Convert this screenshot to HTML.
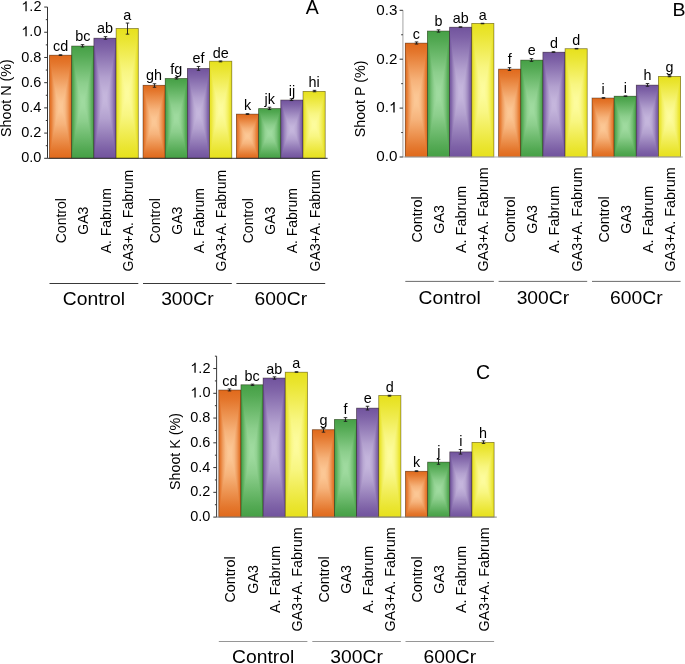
<!DOCTYPE html>
<html><head><meta charset="utf-8"><style>
html,body{margin:0;padding:0;background:#fff;}
#c{position:relative;width:685px;height:664px;overflow:hidden;background:#fff;font-family:"Liberation Sans", sans-serif;}
svg{position:absolute;left:0;top:0;}
svg text{font-family:"Liberation Sans", sans-serif;fill:#000;}
</style></head><body><div id="c">
<svg width="685" height="664" viewBox="0 0 685 664">
<defs><linearGradient id="ho" x1="0" y1="0" x2="1" y2="0"><stop offset="0.000" stop-color="#e0691b"/><stop offset="0.080" stop-color="#e67c34"/><stop offset="0.180" stop-color="#ef9d5f"/><stop offset="0.300" stop-color="#f8ba84"/><stop offset="0.420" stop-color="#fbc694"/><stop offset="0.500" stop-color="#fcc896"/><stop offset="0.580" stop-color="#fbc694"/><stop offset="0.700" stop-color="#f8ba84"/><stop offset="0.820" stop-color="#ef9d5f"/><stop offset="0.920" stop-color="#e67c34"/><stop offset="1.000" stop-color="#e0691b"/></linearGradient><linearGradient id="vo" x1="0" y1="0" x2="0" y2="1"><stop offset="0.000" stop-color="#e0691b"/><stop offset="0.080" stop-color="#e4772d"/><stop offset="0.200" stop-color="#ed9452"/><stop offset="0.330" stop-color="#f6b37b"/><stop offset="0.450" stop-color="#fbc592"/><stop offset="0.500" stop-color="#fcc896"/><stop offset="0.550" stop-color="#fbc592"/><stop offset="0.670" stop-color="#f6b37b"/><stop offset="0.800" stop-color="#ed9452"/><stop offset="0.920" stop-color="#e4772d"/><stop offset="1.000" stop-color="#e0691b"/></linearGradient><linearGradient id="hg" x1="0" y1="0" x2="1" y2="0"><stop offset="0.000" stop-color="#45a045"/><stop offset="0.080" stop-color="#57ac57"/><stop offset="0.180" stop-color="#77c077"/><stop offset="0.300" stop-color="#92d292"/><stop offset="0.420" stop-color="#9eda9e"/><stop offset="0.500" stop-color="#a0dba0"/><stop offset="0.580" stop-color="#9eda9e"/><stop offset="0.700" stop-color="#92d292"/><stop offset="0.820" stop-color="#77c077"/><stop offset="0.920" stop-color="#57ac57"/><stop offset="1.000" stop-color="#45a045"/></linearGradient><linearGradient id="vg" x1="0" y1="0" x2="0" y2="1"><stop offset="0.000" stop-color="#45a045"/><stop offset="0.080" stop-color="#53a953"/><stop offset="0.200" stop-color="#6ebb6e"/><stop offset="0.330" stop-color="#8cce8c"/><stop offset="0.450" stop-color="#9dd99d"/><stop offset="0.500" stop-color="#a0dba0"/><stop offset="0.550" stop-color="#9dd99d"/><stop offset="0.670" stop-color="#8cce8c"/><stop offset="0.800" stop-color="#6ebb6e"/><stop offset="0.920" stop-color="#53a953"/><stop offset="1.000" stop-color="#45a045"/></linearGradient><linearGradient id="hp" x1="0" y1="0" x2="1" y2="0"><stop offset="0.000" stop-color="#71539d"/><stop offset="0.080" stop-color="#8267aa"/><stop offset="0.180" stop-color="#a08ac0"/><stop offset="0.300" stop-color="#b9a8d3"/><stop offset="0.420" stop-color="#c4b5dc"/><stop offset="0.500" stop-color="#c6b7dd"/><stop offset="0.580" stop-color="#c4b5dc"/><stop offset="0.700" stop-color="#b9a8d3"/><stop offset="0.820" stop-color="#a08ac0"/><stop offset="0.920" stop-color="#8267aa"/><stop offset="1.000" stop-color="#71539d"/></linearGradient><linearGradient id="vp" x1="0" y1="0" x2="0" y2="1"><stop offset="0.000" stop-color="#71539d"/><stop offset="0.080" stop-color="#7e62a7"/><stop offset="0.200" stop-color="#9780ba"/><stop offset="0.330" stop-color="#b3a1cf"/><stop offset="0.450" stop-color="#c3b4db"/><stop offset="0.500" stop-color="#c6b7dd"/><stop offset="0.550" stop-color="#c3b4db"/><stop offset="0.670" stop-color="#b3a1cf"/><stop offset="0.800" stop-color="#9780ba"/><stop offset="0.920" stop-color="#7e62a7"/><stop offset="1.000" stop-color="#71539d"/></linearGradient><linearGradient id="hy" x1="0" y1="0" x2="1" y2="0"><stop offset="0.000" stop-color="#e7e11c"/><stop offset="0.080" stop-color="#ebe636"/><stop offset="0.180" stop-color="#f3f064"/><stop offset="0.300" stop-color="#faf88a"/><stop offset="0.420" stop-color="#fdfb9b"/><stop offset="0.500" stop-color="#fdfc9e"/><stop offset="0.580" stop-color="#fdfb9b"/><stop offset="0.700" stop-color="#faf88a"/><stop offset="0.820" stop-color="#f3f064"/><stop offset="0.920" stop-color="#ebe636"/><stop offset="1.000" stop-color="#e7e11c"/></linearGradient><linearGradient id="vy" x1="0" y1="0" x2="0" y2="1"><stop offset="0.000" stop-color="#e7e11c"/><stop offset="0.080" stop-color="#eae530"/><stop offset="0.200" stop-color="#f1ed56"/><stop offset="0.330" stop-color="#f8f681"/><stop offset="0.450" stop-color="#fcfb9a"/><stop offset="0.500" stop-color="#fdfc9e"/><stop offset="0.550" stop-color="#fcfb9a"/><stop offset="0.670" stop-color="#f8f681"/><stop offset="0.800" stop-color="#f1ed56"/><stop offset="0.920" stop-color="#eae530"/><stop offset="1.000" stop-color="#e7e11c"/></linearGradient></defs><g style="isolation:isolate"><rect x="49.50" y="55.20" width="22.20" height="103.10" fill="url(#ho)"/><rect x="49.50" y="55.20" width="22.20" height="103.10" fill="url(#vo)" style="mix-blend-mode:darken"/><rect x="49.50" y="55.20" width="22.20" height="103.10" fill="none" stroke="rgba(40,30,20,0.5)" stroke-width="0.8"/><rect x="71.70" y="46.00" width="22.20" height="112.30" fill="url(#hg)"/><rect x="71.70" y="46.00" width="22.20" height="112.30" fill="url(#vg)" style="mix-blend-mode:darken"/><rect x="71.70" y="46.00" width="22.20" height="112.30" fill="none" stroke="rgba(40,30,20,0.5)" stroke-width="0.8"/><rect x="93.90" y="38.20" width="22.20" height="120.10" fill="url(#hp)"/><rect x="93.90" y="38.20" width="22.20" height="120.10" fill="url(#vp)" style="mix-blend-mode:darken"/><rect x="93.90" y="38.20" width="22.20" height="120.10" fill="none" stroke="rgba(40,30,20,0.5)" stroke-width="0.8"/><rect x="116.10" y="28.50" width="22.20" height="129.80" fill="url(#hy)"/><rect x="116.10" y="28.50" width="22.20" height="129.80" fill="url(#vy)" style="mix-blend-mode:darken"/><rect x="116.10" y="28.50" width="22.20" height="129.80" fill="none" stroke="rgba(40,30,20,0.5)" stroke-width="0.8"/><rect x="143.00" y="85.30" width="22.20" height="73.00" fill="url(#ho)"/><rect x="143.00" y="85.30" width="22.20" height="73.00" fill="url(#vo)" style="mix-blend-mode:darken"/><rect x="143.00" y="85.30" width="22.20" height="73.00" fill="none" stroke="rgba(40,30,20,0.5)" stroke-width="0.8"/><rect x="165.20" y="78.50" width="22.20" height="79.80" fill="url(#hg)"/><rect x="165.20" y="78.50" width="22.20" height="79.80" fill="url(#vg)" style="mix-blend-mode:darken"/><rect x="165.20" y="78.50" width="22.20" height="79.80" fill="none" stroke="rgba(40,30,20,0.5)" stroke-width="0.8"/><rect x="187.40" y="68.50" width="22.20" height="89.80" fill="url(#hp)"/><rect x="187.40" y="68.50" width="22.20" height="89.80" fill="url(#vp)" style="mix-blend-mode:darken"/><rect x="187.40" y="68.50" width="22.20" height="89.80" fill="none" stroke="rgba(40,30,20,0.5)" stroke-width="0.8"/><rect x="209.60" y="61.20" width="22.20" height="97.10" fill="url(#hy)"/><rect x="209.60" y="61.20" width="22.20" height="97.10" fill="url(#vy)" style="mix-blend-mode:darken"/><rect x="209.60" y="61.20" width="22.20" height="97.10" fill="none" stroke="rgba(40,30,20,0.5)" stroke-width="0.8"/><rect x="236.40" y="114.10" width="22.20" height="44.20" fill="url(#ho)"/><rect x="236.40" y="114.10" width="22.20" height="44.20" fill="url(#vo)" style="mix-blend-mode:darken"/><rect x="236.40" y="114.10" width="22.20" height="44.20" fill="none" stroke="rgba(40,30,20,0.5)" stroke-width="0.8"/><rect x="258.60" y="108.60" width="22.20" height="49.70" fill="url(#hg)"/><rect x="258.60" y="108.60" width="22.20" height="49.70" fill="url(#vg)" style="mix-blend-mode:darken"/><rect x="258.60" y="108.60" width="22.20" height="49.70" fill="none" stroke="rgba(40,30,20,0.5)" stroke-width="0.8"/><rect x="280.80" y="100.00" width="22.20" height="58.30" fill="url(#hp)"/><rect x="280.80" y="100.00" width="22.20" height="58.30" fill="url(#vp)" style="mix-blend-mode:darken"/><rect x="280.80" y="100.00" width="22.20" height="58.30" fill="none" stroke="rgba(40,30,20,0.5)" stroke-width="0.8"/><rect x="303.00" y="91.40" width="22.20" height="66.90" fill="url(#hy)"/><rect x="303.00" y="91.40" width="22.20" height="66.90" fill="url(#vy)" style="mix-blend-mode:darken"/><rect x="303.00" y="91.40" width="22.20" height="66.90" fill="none" stroke="rgba(40,30,20,0.5)" stroke-width="0.8"/><rect x="405.30" y="43.10" width="22.15" height="113.90" fill="url(#ho)"/><rect x="405.30" y="43.10" width="22.15" height="113.90" fill="url(#vo)" style="mix-blend-mode:darken"/><rect x="405.30" y="43.10" width="22.15" height="113.90" fill="none" stroke="rgba(40,30,20,0.5)" stroke-width="0.8"/><rect x="427.45" y="31.00" width="22.15" height="126.00" fill="url(#hg)"/><rect x="427.45" y="31.00" width="22.15" height="126.00" fill="url(#vg)" style="mix-blend-mode:darken"/><rect x="427.45" y="31.00" width="22.15" height="126.00" fill="none" stroke="rgba(40,30,20,0.5)" stroke-width="0.8"/><rect x="449.60" y="27.20" width="22.15" height="129.80" fill="url(#hp)"/><rect x="449.60" y="27.20" width="22.15" height="129.80" fill="url(#vp)" style="mix-blend-mode:darken"/><rect x="449.60" y="27.20" width="22.15" height="129.80" fill="none" stroke="rgba(40,30,20,0.5)" stroke-width="0.8"/><rect x="471.75" y="23.40" width="22.15" height="133.60" fill="url(#hy)"/><rect x="471.75" y="23.40" width="22.15" height="133.60" fill="url(#vy)" style="mix-blend-mode:darken"/><rect x="471.75" y="23.40" width="22.15" height="133.60" fill="none" stroke="rgba(40,30,20,0.5)" stroke-width="0.8"/><rect x="498.60" y="69.10" width="22.15" height="87.90" fill="url(#ho)"/><rect x="498.60" y="69.10" width="22.15" height="87.90" fill="url(#vo)" style="mix-blend-mode:darken"/><rect x="498.60" y="69.10" width="22.15" height="87.90" fill="none" stroke="rgba(40,30,20,0.5)" stroke-width="0.8"/><rect x="520.75" y="60.10" width="22.15" height="96.90" fill="url(#hg)"/><rect x="520.75" y="60.10" width="22.15" height="96.90" fill="url(#vg)" style="mix-blend-mode:darken"/><rect x="520.75" y="60.10" width="22.15" height="96.90" fill="none" stroke="rgba(40,30,20,0.5)" stroke-width="0.8"/><rect x="542.90" y="52.20" width="22.15" height="104.80" fill="url(#hp)"/><rect x="542.90" y="52.20" width="22.15" height="104.80" fill="url(#vp)" style="mix-blend-mode:darken"/><rect x="542.90" y="52.20" width="22.15" height="104.80" fill="none" stroke="rgba(40,30,20,0.5)" stroke-width="0.8"/><rect x="565.05" y="48.70" width="22.15" height="108.30" fill="url(#hy)"/><rect x="565.05" y="48.70" width="22.15" height="108.30" fill="url(#vy)" style="mix-blend-mode:darken"/><rect x="565.05" y="48.70" width="22.15" height="108.30" fill="none" stroke="rgba(40,30,20,0.5)" stroke-width="0.8"/><rect x="592.00" y="98.00" width="22.15" height="59.00" fill="url(#ho)"/><rect x="592.00" y="98.00" width="22.15" height="59.00" fill="url(#vo)" style="mix-blend-mode:darken"/><rect x="592.00" y="98.00" width="22.15" height="59.00" fill="none" stroke="rgba(40,30,20,0.5)" stroke-width="0.8"/><rect x="614.15" y="96.20" width="22.15" height="60.80" fill="url(#hg)"/><rect x="614.15" y="96.20" width="22.15" height="60.80" fill="url(#vg)" style="mix-blend-mode:darken"/><rect x="614.15" y="96.20" width="22.15" height="60.80" fill="none" stroke="rgba(40,30,20,0.5)" stroke-width="0.8"/><rect x="636.30" y="85.10" width="22.15" height="71.90" fill="url(#hp)"/><rect x="636.30" y="85.10" width="22.15" height="71.90" fill="url(#vp)" style="mix-blend-mode:darken"/><rect x="636.30" y="85.10" width="22.15" height="71.90" fill="none" stroke="rgba(40,30,20,0.5)" stroke-width="0.8"/><rect x="658.45" y="76.40" width="22.15" height="80.60" fill="url(#hy)"/><rect x="658.45" y="76.40" width="22.15" height="80.60" fill="url(#vy)" style="mix-blend-mode:darken"/><rect x="658.45" y="76.40" width="22.15" height="80.60" fill="none" stroke="rgba(40,30,20,0.5)" stroke-width="0.8"/><rect x="218.80" y="390.00" width="22.15" height="127.10" fill="url(#ho)"/><rect x="218.80" y="390.00" width="22.15" height="127.10" fill="url(#vo)" style="mix-blend-mode:darken"/><rect x="218.80" y="390.00" width="22.15" height="127.10" fill="none" stroke="rgba(40,30,20,0.5)" stroke-width="0.8"/><rect x="240.95" y="384.80" width="22.15" height="132.30" fill="url(#hg)"/><rect x="240.95" y="384.80" width="22.15" height="132.30" fill="url(#vg)" style="mix-blend-mode:darken"/><rect x="240.95" y="384.80" width="22.15" height="132.30" fill="none" stroke="rgba(40,30,20,0.5)" stroke-width="0.8"/><rect x="263.10" y="378.00" width="22.15" height="139.10" fill="url(#hp)"/><rect x="263.10" y="378.00" width="22.15" height="139.10" fill="url(#vp)" style="mix-blend-mode:darken"/><rect x="263.10" y="378.00" width="22.15" height="139.10" fill="none" stroke="rgba(40,30,20,0.5)" stroke-width="0.8"/><rect x="285.25" y="372.20" width="22.15" height="144.90" fill="url(#hy)"/><rect x="285.25" y="372.20" width="22.15" height="144.90" fill="url(#vy)" style="mix-blend-mode:darken"/><rect x="285.25" y="372.20" width="22.15" height="144.90" fill="none" stroke="rgba(40,30,20,0.5)" stroke-width="0.8"/><rect x="312.30" y="429.70" width="22.15" height="87.40" fill="url(#ho)"/><rect x="312.30" y="429.70" width="22.15" height="87.40" fill="url(#vo)" style="mix-blend-mode:darken"/><rect x="312.30" y="429.70" width="22.15" height="87.40" fill="none" stroke="rgba(40,30,20,0.5)" stroke-width="0.8"/><rect x="334.45" y="419.50" width="22.15" height="97.60" fill="url(#hg)"/><rect x="334.45" y="419.50" width="22.15" height="97.60" fill="url(#vg)" style="mix-blend-mode:darken"/><rect x="334.45" y="419.50" width="22.15" height="97.60" fill="none" stroke="rgba(40,30,20,0.5)" stroke-width="0.8"/><rect x="356.60" y="408.10" width="22.15" height="109.00" fill="url(#hp)"/><rect x="356.60" y="408.10" width="22.15" height="109.00" fill="url(#vp)" style="mix-blend-mode:darken"/><rect x="356.60" y="408.10" width="22.15" height="109.00" fill="none" stroke="rgba(40,30,20,0.5)" stroke-width="0.8"/><rect x="378.75" y="395.50" width="22.15" height="121.60" fill="url(#hy)"/><rect x="378.75" y="395.50" width="22.15" height="121.60" fill="url(#vy)" style="mix-blend-mode:darken"/><rect x="378.75" y="395.50" width="22.15" height="121.60" fill="none" stroke="rgba(40,30,20,0.5)" stroke-width="0.8"/><rect x="405.50" y="471.30" width="22.15" height="45.80" fill="url(#ho)"/><rect x="405.50" y="471.30" width="22.15" height="45.80" fill="url(#vo)" style="mix-blend-mode:darken"/><rect x="405.50" y="471.30" width="22.15" height="45.80" fill="none" stroke="rgba(40,30,20,0.5)" stroke-width="0.8"/><rect x="427.65" y="462.10" width="22.15" height="55.00" fill="url(#hg)"/><rect x="427.65" y="462.10" width="22.15" height="55.00" fill="url(#vg)" style="mix-blend-mode:darken"/><rect x="427.65" y="462.10" width="22.15" height="55.00" fill="none" stroke="rgba(40,30,20,0.5)" stroke-width="0.8"/><rect x="449.80" y="451.90" width="22.15" height="65.20" fill="url(#hp)"/><rect x="449.80" y="451.90" width="22.15" height="65.20" fill="url(#vp)" style="mix-blend-mode:darken"/><rect x="449.80" y="451.90" width="22.15" height="65.20" fill="none" stroke="rgba(40,30,20,0.5)" stroke-width="0.8"/><rect x="471.95" y="442.40" width="22.15" height="74.70" fill="url(#hy)"/><rect x="471.95" y="442.40" width="22.15" height="74.70" fill="url(#vy)" style="mix-blend-mode:darken"/><rect x="471.95" y="442.40" width="22.15" height="74.70" fill="none" stroke="rgba(40,30,20,0.5)" stroke-width="0.8"/></g>
<path d="M60.50 54.75V55.45M58.75 54.75H62.25M58.75 55.45H62.25" stroke="#1a1a1a" stroke-width="0.9" fill="none"/><text transform="translate(60.60,51.40) scale(1,1.0)" font-size="14.4" text-anchor="middle">cd</text><text transform="translate(66.10,220.70) rotate(-90)" font-size="14.0" text-anchor="middle">Control</text><path d="M82.50 44.65V46.95M80.75 44.65H84.25M80.75 46.95H84.25" stroke="#1a1a1a" stroke-width="0.9" fill="none"/><text transform="translate(82.80,41.30) scale(1,1.0)" font-size="14.4" text-anchor="middle">bc</text><text transform="translate(88.30,220.70) rotate(-90)" font-size="14.0" text-anchor="middle">GA3</text><path d="M105.50 36.65V39.25M103.75 36.65H107.25M103.75 39.25H107.25" stroke="#1a1a1a" stroke-width="0.9" fill="none"/><text transform="translate(105.00,33.30) scale(1,1.0)" font-size="14.4" text-anchor="middle">ab</text><text transform="translate(110.50,220.70) rotate(-90)" font-size="14.0" text-anchor="middle">A. Fabrum</text><path d="M127.50 23.05V34.15M125.75 23.05H129.25M125.75 34.15H129.25" stroke="#1a1a1a" stroke-width="0.9" fill="none"/><text transform="translate(127.20,19.70) scale(1,1.0)" font-size="14.4" text-anchor="middle">a</text><text transform="translate(132.70,220.70) rotate(-90)" font-size="14.0" text-anchor="middle">GA3+A. Fabrum</text><path d="M49.50 283.50H138.30" stroke="#222" stroke-width="0.9"/><text transform="translate(93.90,305.30) scale(1,0.95)" font-size="19.3" text-anchor="middle">Control</text><path d="M154.50 83.75V87.25M152.75 83.75H156.25M152.75 87.25H156.25" stroke="#1a1a1a" stroke-width="0.9" fill="none"/><text transform="translate(154.10,80.40) scale(1,1.0)" font-size="14.4" text-anchor="middle">gh</text><text transform="translate(159.60,220.70) rotate(-90)" font-size="14.0" text-anchor="middle">Control</text><path d="M176.50 77.45V79.05M174.75 77.45H178.25M174.75 79.05H178.25" stroke="#1a1a1a" stroke-width="0.9" fill="none"/><text transform="translate(176.30,74.10) scale(1,1.0)" font-size="14.4" text-anchor="middle">fg</text><text transform="translate(181.80,220.70) rotate(-90)" font-size="14.0" text-anchor="middle">GA3</text><path d="M198.50 66.45V70.25M196.75 66.45H200.25M196.75 70.25H200.25" stroke="#1a1a1a" stroke-width="0.9" fill="none"/><text transform="translate(198.50,63.10) scale(1,1.0)" font-size="14.4" text-anchor="middle">ef</text><text transform="translate(204.00,220.70) rotate(-90)" font-size="14.0" text-anchor="middle">A. Fabrum</text><path d="M220.50 60.95V61.85M218.75 60.95H222.25M218.75 61.85H222.25" stroke="#1a1a1a" stroke-width="0.9" fill="none"/><text transform="translate(220.70,57.60) scale(1,1.0)" font-size="14.4" text-anchor="middle">de</text><text transform="translate(226.20,220.70) rotate(-90)" font-size="14.0" text-anchor="middle">GA3+A. Fabrum</text><path d="M143.00 283.50H231.80" stroke="#222" stroke-width="0.9"/><text transform="translate(187.40,305.30) scale(1,0.95)" font-size="19.3" text-anchor="middle">300Cr</text><path d="M247.50 113.65V114.45M245.75 113.65H249.25M245.75 114.45H249.25" stroke="#1a1a1a" stroke-width="0.9" fill="none"/><text transform="translate(247.50,110.30) scale(1,1.0)" font-size="14.4" text-anchor="middle">k</text><text transform="translate(253.00,220.70) rotate(-90)" font-size="14.0" text-anchor="middle">Control</text><path d="M269.50 107.25V109.55M267.75 107.25H271.25M267.75 109.55H271.25" stroke="#1a1a1a" stroke-width="0.9" fill="none"/><text transform="translate(269.70,103.90) scale(1,1.0)" font-size="14.4" text-anchor="middle">jk</text><text transform="translate(275.20,220.70) rotate(-90)" font-size="14.0" text-anchor="middle">GA3</text><path d="M291.50 98.85V100.55M289.75 98.85H293.25M289.75 100.55H293.25" stroke="#1a1a1a" stroke-width="0.9" fill="none"/><text transform="translate(291.90,95.50) scale(1,1.0)" font-size="14.4" text-anchor="middle">ij</text><text transform="translate(297.40,220.70) rotate(-90)" font-size="14.0" text-anchor="middle">A. Fabrum</text><path d="M314.50 90.35V91.75M312.75 90.35H316.25M312.75 91.75H316.25" stroke="#1a1a1a" stroke-width="0.9" fill="none"/><text transform="translate(314.10,87.00) scale(1,1.0)" font-size="14.4" text-anchor="middle">hi</text><text transform="translate(319.60,220.70) rotate(-90)" font-size="14.0" text-anchor="middle">GA3+A. Fabrum</text><path d="M236.40 283.50H325.20" stroke="#222" stroke-width="0.9"/><text transform="translate(280.80,305.30) scale(1,0.95)" font-size="19.3" text-anchor="middle">600Cr</text><path d="M47.50 7.05V158.30" stroke="#333" stroke-width="1.0" fill="none"/><path d="M47.50 158.30H327.60" stroke="#333" stroke-width="1" fill="none"/><path d="M44.20 158.30H47.50" stroke="#333" stroke-width="1"/><text x="41.45" y="162.39" font-size="14.5" text-anchor="end">0.0</text><path d="M44.20 133.09H47.50" stroke="#333" stroke-width="1"/><text x="41.45" y="137.18" font-size="14.5" text-anchor="end">0.2</text><path d="M44.20 107.88H47.50" stroke="#333" stroke-width="1"/><text x="41.45" y="111.97" font-size="14.5" text-anchor="end">0.4</text><path d="M44.20 82.68H47.50" stroke="#333" stroke-width="1"/><text x="41.45" y="86.76" font-size="14.5" text-anchor="end">0.6</text><path d="M44.20 57.47H47.50" stroke="#333" stroke-width="1"/><text x="41.45" y="61.56" font-size="14.5" text-anchor="end">0.8</text><path d="M44.20 32.26H47.50" stroke="#333" stroke-width="1"/><path transform="translate(21.293,36.348) scale(0.007080,-0.007080)" d="M763 0L583 0L583 1100C540 1060 480 1015 410 975C340 935 275 905 223 886L223 1053C300 1085 380 1130 450 1185C520 1240 570 1300 600 1409L763 1409Z" fill="#000"/><text x="29.357" y="36.35" font-size="14.5">.</text><text x="33.386" y="36.35" font-size="14.5">0</text><path d="M44.20 7.05H47.50" stroke="#333" stroke-width="1"/><path transform="translate(21.293,11.140) scale(0.007080,-0.007080)" d="M763 0L583 0L583 1100C540 1060 480 1015 410 975C340 935 275 905 223 886L223 1053C300 1085 380 1130 450 1185C520 1240 570 1300 600 1409L763 1409Z" fill="#000"/><text x="29.357" y="11.14" font-size="14.5">.</text><text x="33.386" y="11.14" font-size="14.5">2</text><path d="M45.80 145.70H47.50" stroke="#333" stroke-width="1"/><path d="M45.80 120.49H47.50" stroke="#333" stroke-width="1"/><path d="M45.80 95.28H47.50" stroke="#333" stroke-width="1"/><path d="M45.80 70.07H47.50" stroke="#333" stroke-width="1"/><path d="M45.80 44.86H47.50" stroke="#333" stroke-width="1"/><path d="M45.80 19.66H47.50" stroke="#333" stroke-width="1"/><text transform="translate(10.80,98.10) rotate(-90)" font-size="14.3" text-anchor="middle">Shoot N (%)</text><text transform="translate(305.76,14.00) scale(1,1.0)" font-size="19.5">A</text><path d="M416.50 41.95V44.05M414.75 41.95H418.25M414.75 44.05H418.25" stroke="#1a1a1a" stroke-width="0.9" fill="none"/><text transform="translate(416.38,38.50) scale(1,1.0)" font-size="14.3" text-anchor="middle">c</text><text transform="translate(421.88,219.40) rotate(-90)" font-size="14.4" text-anchor="middle">Control</text><path d="M438.50 29.85V32.15M436.75 29.85H440.25M436.75 32.15H440.25" stroke="#1a1a1a" stroke-width="0.9" fill="none"/><text transform="translate(438.52,26.40) scale(1,1.0)" font-size="14.3" text-anchor="middle">b</text><text transform="translate(444.02,219.40) rotate(-90)" font-size="14.4" text-anchor="middle">GA3</text><path d="M460.50 26.85V27.25M458.75 26.85H462.25M458.75 27.25H462.25" stroke="#1a1a1a" stroke-width="0.9" fill="none"/><text transform="translate(460.68,23.40) scale(1,1.0)" font-size="14.3" text-anchor="middle">ab</text><text transform="translate(466.18,219.40) rotate(-90)" font-size="14.4" text-anchor="middle">A. Fabrum</text><path d="M482.50 23.25V23.75M480.75 23.25H484.25M480.75 23.75H484.25" stroke="#1a1a1a" stroke-width="0.9" fill="none"/><text transform="translate(482.82,19.80) scale(1,1.0)" font-size="14.3" text-anchor="middle">a</text><text transform="translate(488.32,219.40) rotate(-90)" font-size="14.4" text-anchor="middle">GA3+A. Fabrum</text><path d="M405.30 281.40H493.90" stroke="#5a5a5a" stroke-width="0.9"/><text transform="translate(449.60,303.60) scale(1,0.95)" font-size="19.3" text-anchor="middle">Control</text><path d="M509.50 67.65V70.45M507.75 67.65H511.25M507.75 70.45H511.25" stroke="#1a1a1a" stroke-width="0.9" fill="none"/><text transform="translate(509.68,64.20) scale(1,1.0)" font-size="14.3" text-anchor="middle">f</text><text transform="translate(515.17,219.40) rotate(-90)" font-size="14.4" text-anchor="middle">Control</text><path d="M531.50 58.65V61.35M529.75 58.65H533.25M529.75 61.35H533.25" stroke="#1a1a1a" stroke-width="0.9" fill="none"/><text transform="translate(531.83,55.20) scale(1,1.0)" font-size="14.3" text-anchor="middle">e</text><text transform="translate(537.33,219.40) rotate(-90)" font-size="14.4" text-anchor="middle">GA3</text><path d="M553.50 51.75V52.35M551.75 51.75H555.25M551.75 52.35H555.25" stroke="#1a1a1a" stroke-width="0.9" fill="none"/><text transform="translate(553.98,48.30) scale(1,1.0)" font-size="14.3" text-anchor="middle">d</text><text transform="translate(559.48,219.40) rotate(-90)" font-size="14.4" text-anchor="middle">A. Fabrum</text><path d="M576.50 48.45V48.95M574.75 48.45H578.25M574.75 48.95H578.25" stroke="#1a1a1a" stroke-width="0.9" fill="none"/><text transform="translate(576.12,45.00) scale(1,1.0)" font-size="14.3" text-anchor="middle">d</text><text transform="translate(581.62,219.40) rotate(-90)" font-size="14.4" text-anchor="middle">GA3+A. Fabrum</text><path d="M498.60 281.40H587.20" stroke="#5a5a5a" stroke-width="0.9"/><text transform="translate(542.90,303.60) scale(1,0.95)" font-size="19.3" text-anchor="middle">300Cr</text><path d="M603.50 97.65V98.25M601.75 97.65H605.25M601.75 98.25H605.25" stroke="#1a1a1a" stroke-width="0.9" fill="none"/><text transform="translate(603.08,94.20) scale(1,1.0)" font-size="14.3" text-anchor="middle">i</text><text transform="translate(608.58,219.40) rotate(-90)" font-size="14.4" text-anchor="middle">Control</text><path d="M625.50 95.95V96.35M623.75 95.95H627.25M623.75 96.35H627.25" stroke="#1a1a1a" stroke-width="0.9" fill="none"/><text transform="translate(625.23,92.50) scale(1,1.0)" font-size="14.3" text-anchor="middle">i</text><text transform="translate(630.73,219.40) rotate(-90)" font-size="14.4" text-anchor="middle">GA3</text><path d="M647.50 83.55V86.25M645.75 83.55H649.25M645.75 86.25H649.25" stroke="#1a1a1a" stroke-width="0.9" fill="none"/><text transform="translate(647.38,80.10) scale(1,1.0)" font-size="14.3" text-anchor="middle">h</text><text transform="translate(652.88,219.40) rotate(-90)" font-size="14.4" text-anchor="middle">A. Fabrum</text><path d="M669.50 75.75V76.75M667.75 75.75H671.25M667.75 76.75H671.25" stroke="#1a1a1a" stroke-width="0.9" fill="none"/><text transform="translate(669.53,72.30) scale(1,1.0)" font-size="14.3" text-anchor="middle">g</text><text transform="translate(675.03,219.40) rotate(-90)" font-size="14.4" text-anchor="middle">GA3+A. Fabrum</text><path d="M592.00 281.40H680.60" stroke="#5a5a5a" stroke-width="0.9"/><text transform="translate(636.30,303.60) scale(1,0.95)" font-size="19.3" text-anchor="middle">600Cr</text><path d="M402.90 10.30V157.00" stroke="#b8b8b8" stroke-width="1.3" fill="none"/><path d="M402.90 157.00H682.80" stroke="#b0b0b0" stroke-width="1" fill="none"/><path d="M399.60 157.00H402.90" stroke="#333" stroke-width="1"/><text x="397.45" y="161.33" font-size="15.2" text-anchor="end">0.0</text><path d="M399.60 108.10H402.90" stroke="#333" stroke-width="1"/><text x="376.320" y="112.43" font-size="15.2">0</text><text x="384.773" y="112.43" font-size="15.2">.</text><path transform="translate(388.996,112.429) scale(0.007422,-0.007422)" d="M763 0L583 0L583 1100C540 1060 480 1015 410 975C340 935 275 905 223 886L223 1053C300 1085 380 1130 450 1185C520 1240 570 1300 600 1409L763 1409Z" fill="#000"/><path d="M399.60 59.20H402.90" stroke="#333" stroke-width="1"/><text x="397.45" y="63.53" font-size="15.2" text-anchor="end">0.2</text><path d="M399.60 10.30H402.90" stroke="#333" stroke-width="1"/><text x="397.45" y="14.63" font-size="15.2" text-anchor="end">0.3</text><path d="M401.20 132.55H402.90" stroke="#333" stroke-width="1"/><path d="M401.20 83.65H402.90" stroke="#333" stroke-width="1"/><path d="M401.20 34.75H402.90" stroke="#333" stroke-width="1"/><text transform="translate(365.10,98.95) rotate(-90)" font-size="14.3" text-anchor="middle">Shoot P (%)</text><text transform="translate(672.50,15.90) scale(1,0.94)" font-size="19.5">B</text><path d="M229.50 388.95V390.95M227.75 388.95H231.25M227.75 390.95H231.25" stroke="#1a1a1a" stroke-width="0.9" fill="none"/><text transform="translate(229.88,385.60) scale(1,1.0)" font-size="14.4" text-anchor="middle">cd</text><text transform="translate(235.38,579.40) rotate(-90)" font-size="14.4" text-anchor="middle">Control</text><path d="M252.50 384.15V385.45M250.75 384.15H254.25M250.75 385.45H254.25" stroke="#1a1a1a" stroke-width="0.9" fill="none"/><text transform="translate(252.03,380.80) scale(1,1.0)" font-size="14.4" text-anchor="middle">bc</text><text transform="translate(257.52,579.40) rotate(-90)" font-size="14.4" text-anchor="middle">GA3</text><path d="M274.50 376.85V379.15M272.75 376.85H276.25M272.75 379.15H276.25" stroke="#1a1a1a" stroke-width="0.9" fill="none"/><text transform="translate(274.18,373.50) scale(1,1.0)" font-size="14.4" text-anchor="middle">ab</text><text transform="translate(279.68,579.40) rotate(-90)" font-size="14.4" text-anchor="middle">A. Fabrum</text><path d="M296.50 371.75V372.25M294.75 371.75H298.25M294.75 372.25H298.25" stroke="#1a1a1a" stroke-width="0.9" fill="none"/><text transform="translate(296.32,368.40) scale(1,1.0)" font-size="14.4" text-anchor="middle">a</text><text transform="translate(301.82,579.40) rotate(-90)" font-size="14.4" text-anchor="middle">GA3+A. Fabrum</text><path d="M218.80 641.50H307.40" stroke="#8a8a8a" stroke-width="0.9"/><text transform="translate(263.10,662.90) scale(1,0.95)" font-size="19.3" text-anchor="middle">Control</text><path d="M323.50 428.65V432.15M321.75 428.65H325.25M321.75 432.15H325.25" stroke="#1a1a1a" stroke-width="0.9" fill="none"/><text transform="translate(323.38,425.30) scale(1,1.0)" font-size="14.4" text-anchor="middle">g</text><text transform="translate(328.88,579.40) rotate(-90)" font-size="14.4" text-anchor="middle">Control</text><path d="M345.50 417.65V421.35M343.75 417.65H347.25M343.75 421.35H347.25" stroke="#1a1a1a" stroke-width="0.9" fill="none"/><text transform="translate(345.52,414.30) scale(1,1.0)" font-size="14.4" text-anchor="middle">f</text><text transform="translate(351.02,579.40) rotate(-90)" font-size="14.4" text-anchor="middle">GA3</text><path d="M367.50 406.25V409.95M365.75 406.25H369.25M365.75 409.95H369.25" stroke="#1a1a1a" stroke-width="0.9" fill="none"/><text transform="translate(367.68,402.90) scale(1,1.0)" font-size="14.4" text-anchor="middle">e</text><text transform="translate(373.18,579.40) rotate(-90)" font-size="14.4" text-anchor="middle">A. Fabrum</text><path d="M389.50 395.25V396.15M387.75 395.25H391.25M387.75 396.15H391.25" stroke="#1a1a1a" stroke-width="0.9" fill="none"/><text transform="translate(389.82,391.90) scale(1,1.0)" font-size="14.4" text-anchor="middle">d</text><text transform="translate(395.32,579.40) rotate(-90)" font-size="14.4" text-anchor="middle">GA3+A. Fabrum</text><path d="M312.30 641.50H400.90" stroke="#8a8a8a" stroke-width="0.9"/><text transform="translate(356.60,662.90) scale(1,0.95)" font-size="19.3" text-anchor="middle">300Cr</text><path d="M416.50 470.75V471.55M414.75 470.75H418.25M414.75 471.55H418.25" stroke="#1a1a1a" stroke-width="0.9" fill="none"/><text transform="translate(416.57,467.40) scale(1,1.0)" font-size="14.4" text-anchor="middle">k</text><text transform="translate(422.07,579.40) rotate(-90)" font-size="14.4" text-anchor="middle">Control</text><path d="M438.50 459.35V464.25M436.75 459.35H440.25M436.75 464.25H440.25" stroke="#1a1a1a" stroke-width="0.9" fill="none"/><text transform="translate(438.72,456.00) scale(1,1.0)" font-size="14.4" text-anchor="middle">j</text><text transform="translate(444.22,579.40) rotate(-90)" font-size="14.4" text-anchor="middle">GA3</text><path d="M460.50 449.55V454.05M458.75 449.55H462.25M458.75 454.05H462.25" stroke="#1a1a1a" stroke-width="0.9" fill="none"/><text transform="translate(460.88,446.20) scale(1,1.0)" font-size="14.4" text-anchor="middle">i</text><text transform="translate(466.38,579.40) rotate(-90)" font-size="14.4" text-anchor="middle">A. Fabrum</text><path d="M483.50 440.85V443.45M481.75 440.85H485.25M481.75 443.45H485.25" stroke="#1a1a1a" stroke-width="0.9" fill="none"/><text transform="translate(483.02,437.50) scale(1,1.0)" font-size="14.4" text-anchor="middle">h</text><text transform="translate(488.52,579.40) rotate(-90)" font-size="14.4" text-anchor="middle">GA3+A. Fabrum</text><path d="M405.50 641.50H494.10" stroke="#8a8a8a" stroke-width="0.9"/><text transform="translate(449.80,662.90) scale(1,0.95)" font-size="19.3" text-anchor="middle">600Cr</text><path d="M216.60 356.16V517.10" stroke="#3a3a3a" stroke-width="1.0" fill="none"/><path d="M216.60 517.10H496.80" stroke="#888" stroke-width="1" fill="none"/><path d="M213.30 517.10H216.60" stroke="#333" stroke-width="1"/><text x="210.45" y="521.19" font-size="14.5" text-anchor="end">0.0</text><path d="M213.30 492.34H216.60" stroke="#333" stroke-width="1"/><text x="210.45" y="496.43" font-size="14.5" text-anchor="end">0.2</text><path d="M213.30 467.58H216.60" stroke="#333" stroke-width="1"/><text x="210.45" y="471.67" font-size="14.5" text-anchor="end">0.4</text><path d="M213.30 442.82H216.60" stroke="#333" stroke-width="1"/><text x="210.45" y="446.91" font-size="14.5" text-anchor="end">0.6</text><path d="M213.30 418.06H216.60" stroke="#333" stroke-width="1"/><text x="210.45" y="422.15" font-size="14.5" text-anchor="end">0.8</text><path d="M213.30 393.30H216.60" stroke="#333" stroke-width="1"/><path transform="translate(190.293,397.388) scale(0.007080,-0.007080)" d="M763 0L583 0L583 1100C540 1060 480 1015 410 975C340 935 275 905 223 886L223 1053C300 1085 380 1130 450 1185C520 1240 570 1300 600 1409L763 1409Z" fill="#000"/><text x="198.357" y="397.39" font-size="14.5">.</text><text x="202.386" y="397.39" font-size="14.5">0</text><path d="M213.30 368.54H216.60" stroke="#333" stroke-width="1"/><path transform="translate(190.293,372.628) scale(0.007080,-0.007080)" d="M763 0L583 0L583 1100C540 1060 480 1015 410 975C340 935 275 905 223 886L223 1053C300 1085 380 1130 450 1185C520 1240 570 1300 600 1409L763 1409Z" fill="#000"/><text x="198.357" y="372.63" font-size="14.5">.</text><text x="202.386" y="372.63" font-size="14.5">2</text><path d="M214.90 504.72H216.60" stroke="#333" stroke-width="1"/><path d="M214.90 479.96H216.60" stroke="#333" stroke-width="1"/><path d="M214.90 455.20H216.60" stroke="#333" stroke-width="1"/><path d="M214.90 430.44H216.60" stroke="#333" stroke-width="1"/><path d="M214.90 405.68H216.60" stroke="#333" stroke-width="1"/><path d="M214.90 380.92H216.60" stroke="#333" stroke-width="1"/><path d="M214.90 356.16H216.60" stroke="#333" stroke-width="1"/><text transform="translate(180.30,451.50) rotate(-90)" font-size="14.3" text-anchor="middle">Shoot K (%)</text><text transform="translate(475.91,378.90) scale(1,1.0)" font-size="19.5">C</text>
</svg></div></body></html>
